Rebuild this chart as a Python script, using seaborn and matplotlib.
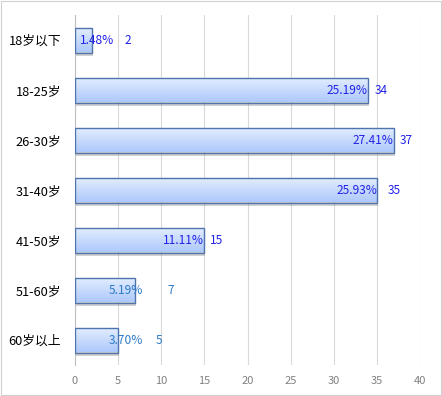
import numpy as np
import pandas as pd
import matplotlib
matplotlib.use("Agg")
import matplotlib.pyplot as plt
import matplotlib.patches as mpatches
from matplotlib.colors import LinearSegmentedColormap
import seaborn as sns

categories = ["18岁以下", "18-25岁", "26-30岁", "31-40岁", "41-50岁", "51-60岁", "60岁以上"]
counts = [2, 34, 37, 35, 15, 7, 5]
percents = ["1.48%", "25.19%", "27.41%", "25.93%", "11.11%", "5.19%", "3.70%"]
x_ticks = [0, 5, 10, 15, 20, 25, 30, 35, 40]

sns.set_theme(style="white")
plt.rcParams["font.family"] = ["Noto Sans CJK SC", "DejaVu Sans"]

df = pd.DataFrame({"cat": categories, "n": counts})

fig = plt.figure(figsize=(4.42, 3.96), dpi=100)
ax = fig.add_axes([75/442, 1-365/396, 345/442, 350/396])

sns.barplot(data=df, y="cat", x="n", orient="h", ax=ax, width=0.5,
            color="#C6DBFA", edgecolor="#4E74AE", linewidth=1.0, zorder=3)

ax.set_xlim(0, 40)
ax.set_ylim(6.5, -0.5)

# gradient fill + shadow
grad = np.linspace(0, 1, 64).reshape(-1, 1)
cmap = LinearSegmentedColormap.from_list("g", ["#E4EEFF", "#ADC9FB"])
for p in ax.patches:
    x0, y0 = p.get_x(), p.get_y()
    w, h = p.get_width(), p.get_height()
    sh = mpatches.Rectangle((x0 + 0.08, y0 + 0.06), w, h, facecolor="#8C8C8C",
                            alpha=0.4, edgecolor="none", zorder=2)
    ax.add_patch(sh)
    im = ax.imshow(grad, extent=[x0, x0 + w, y0 + h, y0], aspect="auto",
                   cmap=cmap, zorder=3.5, origin="upper")
    im.set_clip_path(p)
    p.set_facecolor("none")
    p.set_zorder(4)
ax.set_xlim(0, 40)
ax.set_ylim(6.5, -0.5)

# labels
pct_x = [4.6, 33.9, 36.9, 35.1, 15, 7.9, 7.9]
cnt_x = [5.8, 34.7, 37.6, 36.2, 15.6, 10.7, 9.4]
cols = ["#2222E6"] * 5 + ["#2E7BC8"] * 2
for i in range(len(categories)):
    ax.text(pct_x[i], i, percents[i], ha="right", va="center", fontsize=8.6,
            color=cols[i], zorder=6)
    ax.text(cnt_x[i], i, str(counts[i]), ha="left", va="center", fontsize=8.6,
            color=cols[i], zorder=6)

ax.set_xticks(x_ticks)
ax.set_xticklabels([str(t) for t in x_ticks], fontsize=8, color="#808080")
ax.tick_params(axis="x", length=0, pad=8)
ax.set_yticks(range(len(categories)))
ax.set_yticklabels(categories, fontsize=9.2, color="#000000")
ax.tick_params(axis="y", which="major", length=0, pad=10)
ax.set_yticks(np.arange(-0.5, 7, 1), minor=True)
ax.tick_params(axis="y", which="minor", length=5, color="#BFBFBF", width=0.8)
ax.xaxis.grid(True, color="#D9D9D9", linewidth=0.8, zorder=0)
ax.set_axisbelow(True)
ax.set_xlabel("")
ax.set_ylabel("")
for s in ["top", "right", "bottom"]:
    ax.spines[s].set_visible(False)
ax.spines["left"].set_color("#BFBFBF")
ax.spines["left"].set_linewidth(0.8)

fig.patches.append(mpatches.Rectangle((0.002, 0.003), 0.995, 0.994, transform=fig.transFigure,
                                      fill=False, edgecolor="#D0D0D0", linewidth=0.8))

fig.savefig("out.png", dpi=100)
